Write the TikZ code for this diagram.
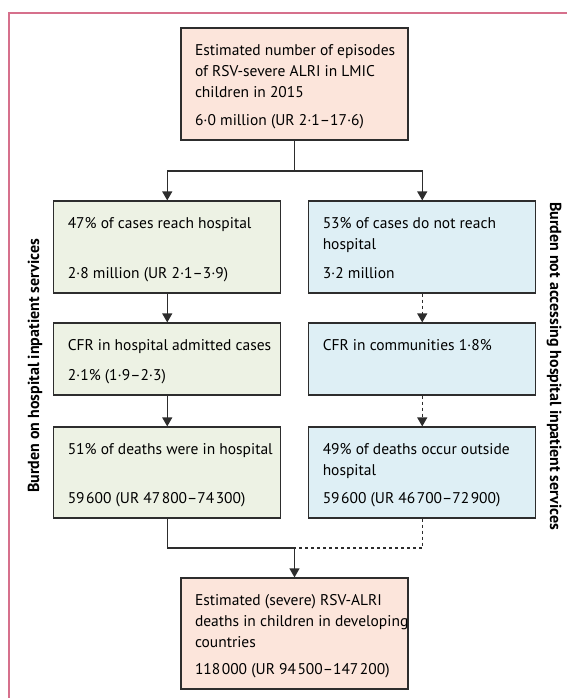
\documentclass[tikz,border=0pt]{standalone}
\usepackage{fontspec}
\setmainfont{PT Sans}
\usepackage{xcolor}
\usetikzlibrary{arrows.meta}
\definecolor{peche}{RGB}{252, 229, 219}
\definecolor{vertpale}{RGB}{237, 242, 228}
\definecolor{bleupale}{RGB}{222, 239, 245}
\definecolor{cadre}{RGB}{214, 112, 140}
\definecolor{trait}{RGB}{45, 45, 45}
% texte d'une boite : titre en haut, chiffre en bas
\newcommand*\contenu[3]{\parbox[t][#1][t]{214pt}{\raggedright\strut #2\par\vfill\strut #3\par\vspace*{-4.5pt}}\hspace*{-15pt}}
\newcommand*\mil{\kern1.5pt}

\begin{document}
\begin{tikzpicture}[x=1pt, y=-1pt]
    \tikzset{
        boite/.style={draw=trait, line width=1.2pt, inner xsep=14pt, inner ysep=12.5pt,
                      font=\fontsize{15.5}{21}\selectfont},
        lien/.style={trait, line width=1.2pt},
        fleche/.style={lien, -{Triangle[width=10pt,length=9pt]}},
        pointille/.style={dash pattern=on 3pt off 3pt},
        cote/.style={font=\bfseries\fontsize{16}{18}\selectfont}
    }
    \useasboundingbox (0,0) rectangle (567,698);

    % Cadre
    \draw[cadre, line width=2pt] (8.5,698) -- (8.5,13.5) -- (567,13.5);

    % Episodes
    \node[boite, fill=peche] (estim) at (294.5,84)
        {\contenu{87pt}{Estimated number of episodes\\of RSV-severe ALRI in LMIC\\children in 2015}{6·0 million (UR 2·1–17·6)}};

    % Colonne hopital
    \node[boite, fill=vertpale] (hop) at (167.25,247)
        {\contenu{67pt}{47\% of cases reach hospital}{2·8 million (UR 2·1–3·9)}};
    \node[boite, fill=vertpale] (cfrhop) at (167.25,359)
        {\contenu{47pt}{CFR in hospital admitted cases}{2·1\% (1·9–2·3)}};
    \node[boite, fill=vertpale] (morthop) at (167.25,472.5)
        {\contenu{66pt}{51\% of deaths were in hospital}{59\mil600 (UR 47\mil800–74\mil300)}};

    % Colonne communautes
    \node[boite, fill=bleupale] (comm) at (422.25,247)
        {\contenu{67pt}{53\% of cases do not reach\\hospital}{3·2 million}};
    \node[boite, fill=bleupale] (cfrcomm) at (422.25,359)
        {\contenu{47pt}{CFR in communities 1·8\%}{}};
    \node[boite, fill=bleupale] (mortcomm) at (422.25,472.5)
        {\contenu{66pt}{49\% of deaths occur outside\\hospital}{59\mil600 (UR 46\mil700–72\mil900)}};

    % Deces
    \node[boite, fill=peche] (deces) at (294.5,633.5)
        {\contenu{86pt}{Estimated (severe) RSV-ALRI\\deaths in children in developing\\countries}{118\mil000 (UR 94\mil500–147\mil200)}};

    % Titres verticaux
    \node[cote, rotate=90] (charge) at (35,366) {Burden on hospital inpatient services};
    \node[cote, rotate=-90] (horscharge) at (554,366) {Burden not accessing hospital inpatient services};

    % Fleches
    \coordinate (split) at (294.5,171);
    \coordinate (join) at (294.5,548);
    \draw[lien] (estim.south) -- (split);
    \draw[fleche] (split) -| (hop.north);
    \draw[fleche] (split) -| (comm.north);
    \draw[fleche] (hop) -- (cfrhop);
    \draw[fleche] (cfrhop) -- (morthop);
    \draw[fleche, pointille] (comm) -- (cfrcomm);
    \draw[fleche, pointille] (cfrcomm) -- (mortcomm);
    \draw[lien] (morthop.south) |- (join);
    \draw[lien, pointille] (mortcomm.south) |- (join);
    \draw[fleche] (join) -- (deces.north);
\end{tikzpicture}
\end{document}
